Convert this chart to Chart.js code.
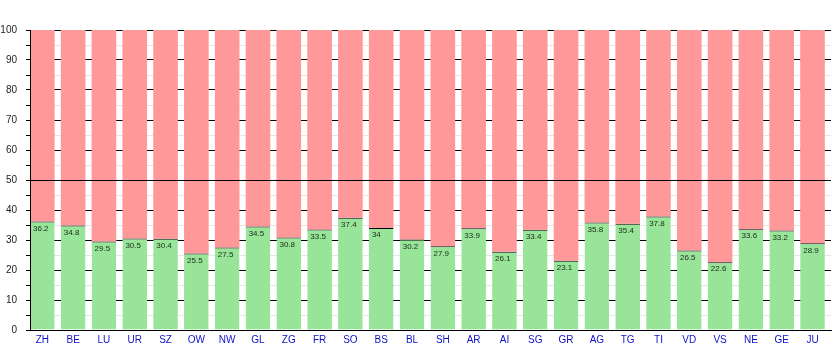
<!DOCTYPE html>
<html>
<head>
<meta charset="utf-8">
<script src="https://cdn.jsdelivr.net/npm/chart.js@4/dist/chart.umd.min.js"></script>
<style>
  html, body { margin: 0; padding: 0; background: #ffffff; }
  #wrap { width: 835px; height: 350px; }
</style>
</head>
<body>
<div id="wrap"><canvas id="c" width="835" height="350"></canvas></div>
<script>
// ---- data ----
const cantons = ['ZH','BE','LU','UR','SZ','OW','NW','GL','ZG','FR','SO','BS','BL','SH','AR','AI','SG','GR','AG','TG','TI','VD','VS','NE','GE','JU'];
const share = [36.2,34.8,29.5,30.5,30.4,25.5,27.5,34.5,30.8,33.5,37.4,34,30.2,27.9,33.9,26.1,33.4,23.1,35.8,35.4,37.8,26.5,22.6,33.6,33.2,28.9];
const rest = share.map(v => +(100 - v).toFixed(1));
const yTicks = [0,10,20,30,40,50,60,70,80,90,100];

const FONT = "'Liberation Sans', Arial, sans-serif";

const overlay = {
  id: 'overlay',
  afterDatasetsDraw(chart) {
    const ctx = chart.ctx;
    const ys = chart.scales.y;
    const area = chart.chartArea;
    // 50% reference line on top of bars
    const y50 = Math.round(ys.getPixelForValue(50)) + 0.5;
    ctx.save();
    ctx.strokeStyle = '#000';
    ctx.lineWidth = 1;
    ctx.beginPath();
    ctx.moveTo(area.left, y50);
    ctx.lineTo(area.right, y50);
    ctx.stroke();
    // value labels
    const meta = chart.getDatasetMeta(0);
    ctx.font = '8px ' + FONT;
    ctx.fillStyle = '#1c2a1c';
    ctx.textAlign = 'left';
    ctx.textBaseline = 'top';
    meta.data.forEach((bar, i) => {
      ctx.fillText(String(share[i]), bar.x - bar.width / 2 + 3, bar.y + 3);
    });
    ctx.restore();
  }
};

new Chart(document.getElementById('c'), {
  type: 'bar',
  data: {
    datasets: [
      {
        label: 'share',
        data: share.map((v, i) => ({ x: i, y: v })),
        backgroundColor: 'rgb(152,228,152)',
        borderColor: '#000',
        borderWidth: { top: 1, left: 0, right: 0, bottom: 0 },
        borderSkipped: false,
        barPercentage: 0.8,
        categoryPercentage: 1.0
      },
      {
        label: 'rest',
        data: rest.map((v, i) => ({ x: i, y: v })),
        backgroundColor: 'rgb(255,153,153)',
        borderWidth: 0,
        barPercentage: 0.8,
        categoryPercentage: 1.0
      }
    ]
  },
  options: {
    responsive: false,
    animation: false,
    events: [],
    layout: { padding: { top: 30, right: 4, left: 0, bottom: 0 } },
    plugins: { legend: { display: false }, tooltip: { enabled: false } },
    scales: {
      x: {
        type: 'linear',
        stacked: true,
        offset: false,
        min: -0.4,
        max: 25.6,
        afterBuildTicks: (s) => { s.ticks = cantons.map((_, i) => ({ value: i })); },
        afterFit: (s) => { s.height = 20; },
        grid: { display: false, drawTicks: false, offset: false },
        border: { display: true, color: '#000', width: 1, z: 1 },
        ticks: {
          autoSkip: false,
          maxRotation: 0,
          padding: 4,
          color: '#1010c8',
          font: { family: FONT, size: 10 },
          callback: (v) => cantons[v] ?? ''
        }
      },
      y: {
        stacked: true,
        min: 0,
        max: 100,
        afterFit: (s) => { s.width = 30; },
        afterBuildTicks: (s) => {
          const t = [];
          for (let v = 0; v <= 100; v += 5) t.push({ value: v });
          s.ticks = t;
        },
        grid: {
          color: (c) => (yTicks.includes(c.tick.value) ? '#000' : '#e6e6e6'),
          tickColor: '#000',
          tickLength: 4,
          lineWidth: 1
        },
        border: { display: true, color: '#000', width: 1, z: 1 },
        ticks: {
          padding: 9,
          color: '#222',
          font: { family: FONT, size: 10 },
          callback: (v) => (yTicks.includes(v) ? String(v) : '')
        }
      }
    }
  },
  plugins: [overlay]
});
</script>
</body>
</html>
